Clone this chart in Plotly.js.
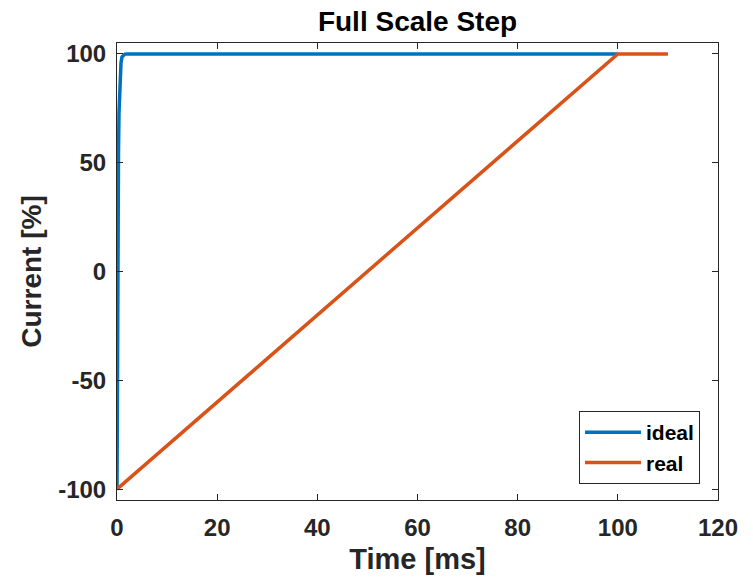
<!DOCTYPE html>
<html>
<head>
<meta charset="utf-8">
<script src="https://cdn.plot.ly/plotly-3.0.1.min.js"></script>
<style>html,body{margin:0;padding:0;background:#fff;}#chart{width:753px;height:578px;}</style>
</head>
<body>
<div id="chart"></div>
<script>
const idealTime = [0, 0.05, 0.1, 0.2, 0.3, 0.4, 0.6, 0.8, 1.0, 1.3, 1.6, 2, 100];
const idealCurrent = [-100, -55, -18, 26, 55, 73, 90, 96, 98.6, 99.5, 99.9, 100, 100];
const realTime = [0, 100, 110];
const realCurrent = [-100, 100, 100];
const xTicks = [0, 20, 40, 60, 80, 100, 120];
const yTicks = [-100, -50, 0, 50, 100];

const font = {family: 'Liberation Sans, Arial, sans-serif', color: '#262626'};
const traces = [
  {x: idealTime, y: idealCurrent, name: 'ideal', mode: 'lines', line: {color: '#0072BD', width: 3.5}},
  {x: realTime, y: realCurrent, name: 'real', mode: 'lines', line: {color: '#D95319', width: 3.5}}
];
const axisCommon = {
  showline: true, linecolor: '#262626', linewidth: 1, mirror: 'ticks',
  ticks: 'inside', ticklen: 6, tickwidth: 1, tickcolor: '#262626',
  showgrid: false, zeroline: false,
  tickfont: {family: font.family, color: '#262626', size: 24, weight: 'bold'}
};
const layout = {
  width: 753, height: 578,
  margin: {l: 117, r: 35, t: 43, b: 78},
  paper_bgcolor: '#fff', plot_bgcolor: '#fff',
  font: font,
  title: {text: '<b>Full Scale Step</b>', x: 0.5, xref: 'paper', y: 1, yref: 'paper', yanchor: 'bottom', pad: {b: 12}, font: {family: font.family, size: 28, color: '#000'}},
  xaxis: Object.assign({}, axisCommon, {
    range: [0, 120], tickvals: xTicks, ticktext: xTicks.map(String), ticklabelstandoff: 6,
    title: {text: '<b>Time [ms]</b>', font: {family: font.family, size: 29, color: '#262626'}, standoff: 8}
  }),
  yaxis: Object.assign({}, axisCommon, {
    range: [-105, 105], tickvals: yTicks, ticktext: yTicks.map(String), ticklabelstandoff: 5,
    title: {text: '<b>Current [%]</b>', font: {family: font.family, size: 28, color: '#262626'}, standoff: 8}
  }),
  showlegend: true,
  legend: {
    x: 0.97, y: 0.035, xanchor: 'right', yanchor: 'bottom',
    bgcolor: '#fff', bordercolor: '#262626', borderwidth: 1,
    font: {family: font.family, size: 21, color: '#000', weight: 'bold'},
    itemwidth: 56, tracegroupgap: 0
  }
};
Plotly.newPlot('chart', traces, layout, {displayModeBar: false, staticPlot: true});
</script>
</body>
</html>
